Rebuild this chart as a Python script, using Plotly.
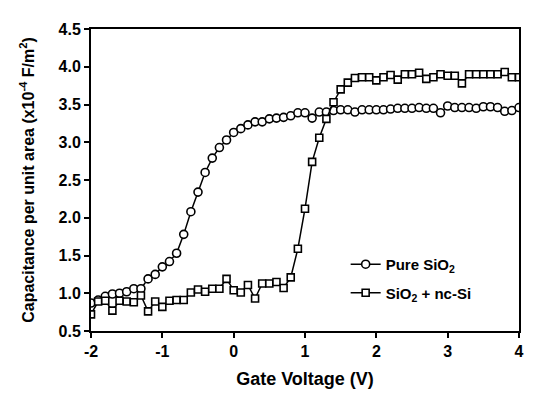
import plotly.graph_objects as go

voltage = [round(-2 + 0.1 * i, 1) for i in range(61)]

pure_sio2 = [0.87, 0.91, 0.96, 0.99, 1.00, 1.02, 1.06, 1.06, 1.19, 1.25,
             1.35, 1.42, 1.53, 1.78, 2.08, 2.34, 2.60, 2.79, 2.93, 3.03,
             3.13, 3.18, 3.23, 3.27, 3.27, 3.31, 3.32, 3.33, 3.35, 3.39,
             3.39, 3.32, 3.40, 3.40, 3.42, 3.43, 3.43, 3.40, 3.43, 3.43,
             3.43, 3.43, 3.44, 3.45, 3.45, 3.45, 3.46, 3.45, 3.45, 3.39,
             3.48, 3.46, 3.46, 3.46, 3.45, 3.47, 3.47, 3.46, 3.41, 3.42,
             3.46]

sio2_ncsi = [0.72, 0.89, 0.90, 0.77, 0.90, 0.89, 0.88, 0.97, 0.76, 0.89,
             0.82, 0.90, 0.91, 0.91, 1.01, 1.05, 1.02, 1.06, 1.06, 1.19,
             1.04, 1.01, 1.11, 0.93, 1.13, 1.13, 1.15, 1.07, 1.21, 1.59,
             2.12, 2.74, 3.06, 3.31, 3.53, 3.70, 3.79, 3.85, 3.86, 3.86,
             3.82, 3.86, 3.89, 3.83, 3.90, 3.90, 3.92, 3.84, 3.86, 3.90,
             3.88, 3.88, 3.78, 3.90, 3.90, 3.90, 3.90, 3.90, 3.93, 3.86,
             3.86]

x_ticks = [-2, -1, 0, 1, 2, 3, 4]
y_ticks = [0.5, 1.0, 1.5, 2.0, 2.5, 3.0, 3.5, 4.0, 4.5]

font_family = "Liberation Sans, Arial, sans-serif"

fig = go.Figure()
fig.add_trace(go.Scatter(
    x=voltage, y=pure_sio2, mode="lines+markers",
    name="<b>Pure SiO<sub>2</sub></b>", legendgroup="a",
    line=dict(color="black", width=1.5),
    marker=dict(symbol="circle", size=8, color="white",
                line=dict(color="black", width=1.6)),
))
fig.add_trace(go.Scatter(
    x=voltage, y=sio2_ncsi, mode="lines+markers",
    name="<b>SiO<sub>2</sub> + nc-Si</b>", legendgroup="b",
    line=dict(color="black", width=1.5),
    marker=dict(symbol="square", size=7, color="white",
                line=dict(color="black", width=1.6)),
))

# page body has an 8px margin, so the figure is drawn 8px in from the top-left
fig.update_layout(
    width=528, height=390,
    margin=dict(l=83, r=13, t=21, b=65),
    paper_bgcolor="white", plot_bgcolor="white",
    font=dict(family=font_family, size=15, color="black"),
    showlegend=True,
    legend=dict(x=0.595, y=0.275, xanchor="left", yanchor="top",
                bgcolor="rgba(0,0,0,0)", font=dict(size=15),
                tracegroupgap=6),
)
fig.update_xaxes(
    range=[-2, 4], tickvals=x_ticks, ticktext=[f"<b>{v}</b>" for v in x_ticks],
    tickfont=dict(size=16),
    showline=True, linecolor="black", linewidth=2, mirror=True,
    ticks="outside", ticklen=5, tickwidth=1.5, tickcolor="black",
    showgrid=False, zeroline=False,
    title=dict(text="<b>Gate Voltage (V)</b>", font=dict(size=18), standoff=13),
)
fig.update_yaxes(
    range=[0.5, 4.5], tickvals=y_ticks, ticktext=[f"<b>{v:.1f}</b>" for v in y_ticks],
    tickfont=dict(size=16),
    showline=True, linecolor="black", linewidth=2, mirror=True,
    ticks="outside", ticklen=5, tickwidth=1.5, tickcolor="black",
    showgrid=False, zeroline=False,
    title=dict(text="<b>Capacitance per unit area (x10<sup>-4</sup> F/m<sup>2</sup>)</b>",
               font=dict(size=16), standoff=20),
)

fig.write_html("out.html")
